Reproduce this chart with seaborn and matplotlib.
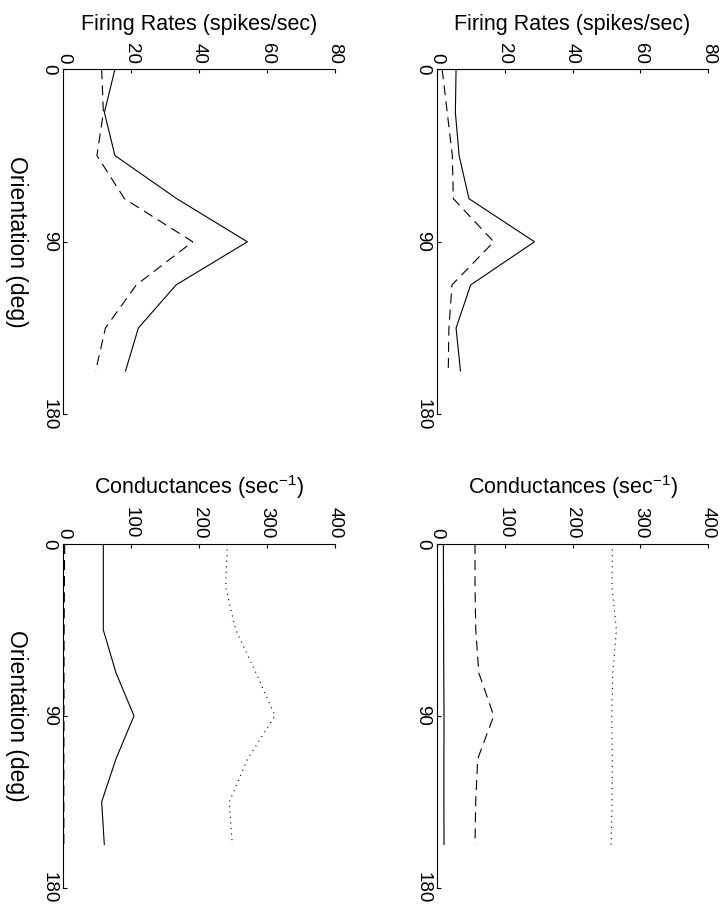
import matplotlib
matplotlib.use("Agg")
import matplotlib.pyplot as plt
import pandas as pd
import seaborn as sns

# Stimulus orientations (deg)
orientation = [0, 22.5, 45, 67.5, 90, 112.5, 135, 157.5]

# Firing rates (spikes/sec)
rate_left_solid = [15.2, 12.1, 15.2, 33.4, 54.2, 33.2, 22.1, 18.3]
rate_left_dashed = [11.3, 11.8, 9.9, 18.0, 38.1, 21.5, 12.4, 9.5]
rate_right_solid = [5.7, 5.5, 6.6, 9.5, 28.8, 10.0, 5.7, 7.0]
rate_right_dashed = [1.6, 3.1, 4.6, 4.9, 16.8, 4.5, 3.6, 3.4]

# Conductances (1/sec)
cond_left_solid = [58.9, 58.9, 58.9, 77.6, 104.1, 77.6, 56.5, 60.4]
cond_left_dashed = [2.0, 1.6, 1.2, 1.0, 1.0, 0.8, 0.8, 0.8]
cond_left_dotted = [241.5, 239.0, 253.8, 283.7, 311.7, 271.4, 244.4, 248.8]
cond_right_solid = [9.8, 10.0, 10.2, 10.4, 10.8, 10.6, 10.6, 10.8]
cond_right_dashed = [56.4, 56.4, 57.5, 62.0, 84.0, 60.4, 57.4, 56.4]
cond_right_dotted = [258.6, 258.2, 264.6, 259.2, 257.7, 258.6, 258.2, 256.7]

rate_ticks = [0, 20, 40, 60, 80]
cond_ticks = [0, 100, 200, 300, 400]
orient_ticks = [0, 90, 180]

sns.set_theme(style="white")
plt.rcParams["font.family"] = ["Liberation Sans", "DejaVu Sans"]
plt.rcParams["mathtext.fontset"] = "custom"
plt.rcParams["mathtext.rm"] = "Liberation Sans"
plt.rcParams["mathtext.it"] = "Liberation Sans:italic"
plt.rcParams["mathtext.bf"] = "Liberation Sans:bold"
plt.rcParams["text.color"] = "black"
plt.rcParams["axes.labelcolor"] = "black"

LINE_DASHES = {"solid": "", "dashed": (9, 5.5), "dotted": (1, 4)}
TICK_FS = 13.5
LABEL_FS = 15.5
YLABEL_FS = 16.5


def draw_panel(ax, traces, ticks, xlabel, ylabel):
    frames = [
        pd.DataFrame({"orientation": orientation, "value": vals, "trace": name})
        for name, vals in traces.items()
    ]
    df = pd.concat(frames, ignore_index=True)
    sns.lineplot(
        data=df, x="value", y="orientation", style="trace",
        dashes={k: LINE_DASHES[k] for k in traces}, color="black",
        linewidth=0.8, orient="y", legend=False, ax=ax,
    )
    ax.set_xlim(ticks[0], ticks[-1])
    ax.set_ylim(180, 0)

    ax.xaxis.tick_top()
    ax.xaxis.set_label_position("top")
    ax.set_xticks(ticks)
    ax.set_xticklabels([str(t) for t in ticks], rotation=-90,
                       ha="center", va="bottom", fontsize=TICK_FS)
    ax.set_yticks(orient_ticks)
    ax.set_yticklabels([str(t) for t in orient_ticks], rotation=-90,
                       ha="right", va="center", fontsize=TICK_FS)
    ax.tick_params(axis="x", direction="in", length=3, width=0.8,
                   pad=4, top=True, bottom=False, colors="black")
    ax.tick_params(axis="y", direction="in", length=3, width=0.8,
                   pad=4, left=True, right=False, colors="black")

    for side in ("right", "bottom"):
        ax.spines[side].set_visible(False)
    for side in ("left", "top"):
        ax.spines[side].set_color("black")
        ax.spines[side].set_linewidth(0.8)

    ax.set_xlabel(xlabel, fontsize=LABEL_FS, labelpad=9, color="black")
    if ylabel:
        ax.set_ylabel(ylabel, fontsize=YLABEL_FS, rotation=-90, va="top",
                      labelpad=9, color="black")
    else:
        ax.set_ylabel("")


fig = plt.figure(figsize=(7.25, 9.09), dpi=100)
fig.patch.set_facecolor("white")

W, H = 725.0, 909.0
col_left = [63.3, 436.7]
col_width = 271.7
row_top = [69.3, 544.0]
row_height = [345.0, 343.7]

axes = {}
for r in range(2):
    for c in range(2):
        rect = [col_left[c] / W, 1 - (row_top[r] + row_height[r]) / H,
                col_width / W, row_height[r] / H]
        axes[(r, c)] = fig.add_axes(rect)

rate_label = "Firing Rates (spikes/sec)"
cond_label = r"Conductances (sec$^{-1}$)"
orient_label = "Orientation (deg)"

draw_panel(axes[(0, 0)], {"solid": rate_left_solid, "dashed": rate_left_dashed},
           rate_ticks, rate_label, orient_label)
draw_panel(axes[(0, 1)], {"solid": rate_right_solid, "dashed": rate_right_dashed},
           rate_ticks, rate_label, None)
draw_panel(axes[(1, 0)], {"solid": cond_left_solid, "dashed": cond_left_dashed,
                          "dotted": cond_left_dotted},
           cond_ticks, cond_label, orient_label)
draw_panel(axes[(1, 1)], {"solid": cond_right_solid, "dashed": cond_right_dashed,
                          "dotted": cond_right_dotted},
           cond_ticks, cond_label, None)

fig.savefig("out.png", dpi=100, facecolor="white")
